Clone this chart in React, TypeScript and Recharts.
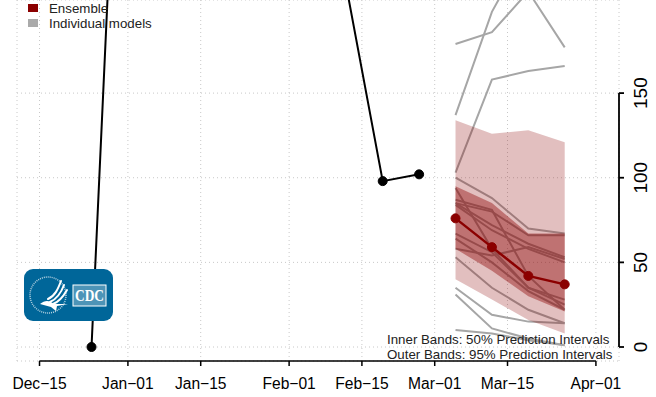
import { CSSProperties } from "react";
import {
    ComposedChart,
    Area,
    Line,
    XAxis,
    YAxis,
    CartesianGrid,
    ReferenceLine,
} from "recharts";

// days counted from Dec-15
const tickDays = [0, 17, 31, 48, 62, 76, 90, 107];
const tickLabels = ["Dec\u221215", "Jan\u221201", "Jan\u221215", "Feb\u221201", "Feb\u221215", "Mar\u221201", "Mar\u221215", "Apr\u221201"];
const yTicks = [0, 50, 100, 150];

const weeks = [10, 17, 24, 31, 38, 45, 52, 59, 66, 73, 80, 87, 94, 101];
const observed = [0, 468, 640, 810, 860, 700, 420, 213, 98, 102];

const ensemble = [76, 59, 42, 37];
const outerLow = [40, 28, 16, 8];
const outerHigh = [134, 126, 128, 121];
const innerLow = [58, 45, 30, 21];
const innerHigh = [95, 85, 67, 67];

const models = [
    [179, 186, 210, 177],
    [137, 198, 237, 240],
    [103, 158, 163, 166],
    [100, 88, 70, 67],
    [94, 58, 35, 28],
    [87, 81, 42, 22],
    [85, 80, 66, 66],
    [85, 72, 61, 53],
    [84, 69, 58, 50],
    [67, 56, 35, 25],
    [64, 50, 33, 22],
    [58, 54, 59, 52],
    [53, 35, 22, 14],
    [35, 19, 15, 14],
    [31, 11, 5, 1],
    [10, 8, 4, 1],
];

const rows = weeks.map((day, i) => {
    const f = i - observed.length;
    const row: Record<string, any> = { day };
    if (f < 0) {
        row.observed = observed[i];
    } else {
        row.ensemble = ensemble[f];
        row.outer = [outerLow[f], outerHigh[f]];
        row.inner = [innerLow[f], innerHigh[f]];
        models.forEach((m, k) => {
            row["m" + k] = m[f];
        });
    }
    return row;
});

const font = "'Liberation Sans', Arial, sans-serif";

const XTick = ({ x, y, payload }: any) => (
    <text x={x} y={y + 21} textAnchor="middle" fontSize={15.6} fontFamily={font} fill="#000">
        {tickLabels[tickDays.indexOf(payload.value)]}
    </text>
);

const YTick = ({ y, payload }: any) => (
    <text x={647} y={y} transform={`rotate(-90 647 ${y})`} textAnchor="middle" fontSize={19} fontFamily={font} fill="#000">
        {payload.value}
    </text>
);

const label = (left: number, top: number): CSSProperties => ({
    position: "absolute",
    left,
    top,
    fontFamily: font,
    fontSize: 13.3,
    lineHeight: "15px",
    color: "#222",
    whiteSpace: "nowrap",
});

const swatch = (top: number, background: string): CSSProperties => ({
    position: "absolute",
    left: 28,
    top,
    width: 10,
    height: 8,
    background,
});

const CdcLogo = () => (
    <svg width={89} height={52} style={{ position: "absolute", left: 24, top: 269 }}>
        <rect width={89} height={52} rx={9} fill="#006699" />
        <circle cx={24} cy={26} r={18} fill="none" stroke="#fff" strokeWidth={1.5} strokeDasharray="1 1" opacity={0.7} />
        <g fill="none" stroke="#fff" strokeWidth={2} strokeLinecap="round">
            <path d="M24 30 C31 27 34 20 37 12" />
            <path d="M26 33 C33 30 37 24 40 16" />
            <path d="M29 35 C35 33 39 28 43 21" />
        </g>
        <path d="M16 35 C21 31 25 31 30 35 L44 35 L33 37 L32 42 L27 38 Z" fill="#fff" />
        <rect x={49} y={16} width={33} height={21} fill="#fff" fillOpacity={0.3} stroke="#fff" strokeWidth={1} />
        <text
            x={51}
            y={32}
            textLength={29}
            lengthAdjust="spacingAndGlyphs"
            fontSize={17}
            fontWeight="bold"
            fontFamily="'Liberation Serif', serif"
            fill="#fff"
        >
            CDC
        </text>
    </svg>
);

export default function App() {
    return (
        <div style={{ position: "absolute", left: 0, top: 0, width: 656, height: 397, overflow: "hidden" }}>
            <ComposedChart
                width={656}
                height={397}
                data={rows}
                margin={{ top: 0, right: 0, bottom: 0, left: 17 }}
            >
                <CartesianGrid strokeDasharray="1 3" stroke="#c8c8c8" />
                <XAxis
                    dataKey="day"
                    type="number"
                    domain={[-4.33, 111.44]}
                    ticks={tickDays}
                    interval={0}
                    allowDataOverflow
                    axisLine={false}
                    tickLine={{ stroke: "#000", strokeWidth: 1.5 }}
                    tickSize={5}
                    tick={<XTick />}
                    height={36}
                />
                <YAxis
                    orientation="right"
                    type="number"
                    domain={[-8.27, 205]}
                    ticks={yTicks}
                    interval={0}
                    allowDataOverflow
                    axisLine={false}
                    tickLine={{ stroke: "#000", strokeWidth: 1.8 }}
                    tickSize={5}
                    tick={<YTick />}
                    width={37}
                />
                <ReferenceLine
                    segment={[{ x: 0, y: -8.27 }, { x: 107, y: -8.27 }]}
                    stroke="#000"
                    strokeWidth={1.5}
                    ifOverflow="visible"
                />
                <ReferenceLine
                    segment={[{ x: 111.44, y: 0 }, { x: 111.44, y: 150 }]}
                    stroke="#000"
                    strokeWidth={1.8}
                    ifOverflow="visible"
                />
                {/* grey lines sit under the bands, that is what tints them brown */}
                {models.map((_, k) => (
                    <Line
                        key={k}
                        dataKey={"m" + k}
                        stroke="#a6a6a6"
                        strokeWidth={2}
                        dot={false}
                        isAnimationActive={false}
                        zIndex={50}
                    />
                ))}
                <Area dataKey="outer" fill="#8b0000" fillOpacity={0.25} stroke="none" isAnimationActive={false} />
                <Area dataKey="inner" fill="#8b0000" fillOpacity={0.4} stroke="none" isAnimationActive={false} />
                <Line
                    dataKey="observed"
                    stroke="#000"
                    strokeWidth={2}
                    dot={{ r: 4.5, fill: "#000", stroke: "#000", strokeWidth: 1 }}
                    isAnimationActive={false}
                />
                <Line
                    dataKey="ensemble"
                    stroke="#8b0000"
                    strokeWidth={2.5}
                    dot={{ r: 4.5, fill: "#8b0000", stroke: "#8b0000", strokeWidth: 1 }}
                    isAnimationActive={false}
                />
            </ComposedChart>
            <div style={swatch(4, "#8b0000")} />
            <div style={swatch(19, "#aaaaaa")} />
            <div style={label(49, 1)}>Ensemble</div>
            <div style={label(49, 16)}>Individual models</div>
            <div style={label(387, 332)}>Inner Bands: 50% Prediction Intervals</div>
            <div style={label(387, 347)}>Outer Bands: 95% Prediction Intervals</div>
            <CdcLogo />
        </div>
    );
}
